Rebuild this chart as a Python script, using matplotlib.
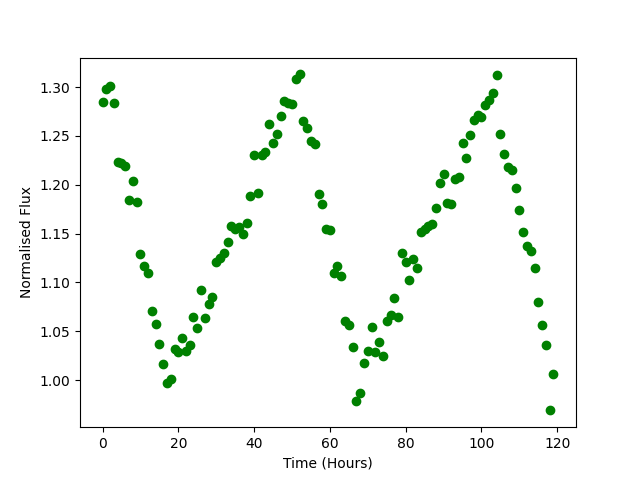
import numpy
import matplotlib
matplotlib.use("Agg")
import matplotlib.pyplot as plt

# hourly samples, values
hours = list(range(120))
flux = [1.285, 1.298, 1.301, 1.284, 1.223, 1.222, 1.219, 1.184, 1.204, 1.182,
        1.129, 1.117, 1.110, 1.071, 1.057, 1.037, 1.017, 0.997, 1.001, 1.032,
        1.029, 1.043, 1.030, 1.036, 1.065, 1.053, 1.092, 1.064, 1.078, 1.085,
        1.121, 1.125, 1.130, 1.141, 1.158, 1.155, 1.157, 1.150, 1.161, 1.189,
        1.230, 1.192, 1.230, 1.234, 1.262, 1.243, 1.252, 1.270, 1.286, 1.284,
        1.283, 1.308, 1.313, 1.265, 1.258, 1.245, 1.242, 1.191, 1.180, 1.155,
        1.154, 1.110, 1.117, 1.107, 1.061, 1.056, 1.034, 0.979, 0.987, 1.018,
        1.030, 1.054, 1.029, 1.039, 1.025, 1.061, 1.067, 1.084, 1.065, 1.130,
        1.121, 1.103, 1.124, 1.115, 1.152, 1.155, 1.158, 1.160, 1.176, 1.202,
        1.211, 1.181, 1.180, 1.206, 1.208, 1.243, 1.227, 1.251, 1.266, 1.271,
        1.269, 1.282, 1.287, 1.294, 1.312, 1.252, 1.232, 1.218, 1.215, 1.197,
        1.174, 1.152, 1.137, 1.132, 1.115, 1.080, 1.056, 1.036, 0.969, 1.006]

fig, ax = plt.subplots(figsize=(6.4, 4.8), dpi=100)
ax.plot(numpy.array(hours), numpy.array(flux), 'go')
ax.set_xlabel('Time (Hours)')
ax.set_ylabel('Normalised Flux')
plt.savefig('out.png')
